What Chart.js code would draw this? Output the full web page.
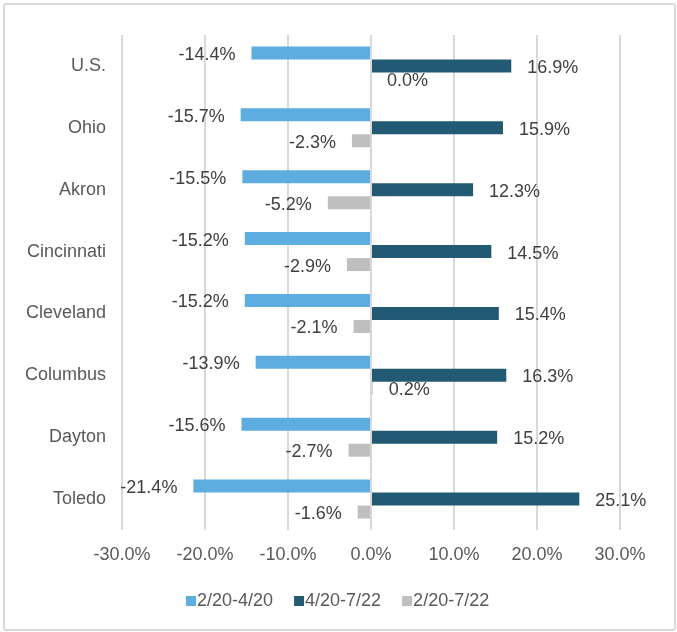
<!DOCTYPE html>
<html>
<head>
<meta charset="utf-8">
<script src="https://cdn.jsdelivr.net/npm/chart.js@4.4.0/dist/chart.umd.min.js"></script>
<style>
  body { margin: 0; background: #fff; }
  #wrap { position: relative; width: 677px; height: 632px; }
  #frame { position: absolute; left: 3px; top: 3px; width: 673px; height: 628px;
           box-sizing: border-box; border: 2px solid #d9d9d9; border-radius: 3px; }
  #myChart { position: absolute; left: 0; top: 0; }
</style>
</head>
<body>
<div id="wrap">
  <div id="frame"></div>
  <canvas id="myChart" width="677" height="632"></canvas>
</div>
<script>
// Categories and series (percent change)
const categories = ['U.S.', 'Ohio', 'Akron', 'Cincinnati', 'Cleveland', 'Columbus', 'Dayton', 'Toledo'];
const seriesNames = ['2/20-4/20', '4/20-7/22', '2/20-7/22'];
const feb_apr = [-14.4, -15.7, -15.5, -15.2, -15.2, -13.9, -15.6, -21.4];
const apr_jul = [16.9, 15.9, 12.3, 14.5, 15.4, 16.3, 15.2, 25.1];
const feb_jul = [0.0, -2.3, -5.2, -2.9, -2.1, 0.2, -2.7, -1.6];
const xTicks = [-30, -20, -10, 0, 10, 20, 30];

const colors = ['#5dade0', '#215a72', '#bfbfbf'];
const FONT = '"Liberation Sans", Arial, sans-serif';

// value labels at the end of each bar
const barLabels = {
    id: 'barLabels',
    afterDatasetsDraw(chart) {
        const ctx = chart.ctx;
        ctx.save();
        ctx.font = '18px ' + FONT;
        ctx.fillStyle = '#404040';
        ctx.textBaseline = 'middle';
        chart.data.datasets.forEach((ds, i) => {
            chart.getDatasetMeta(i).data.forEach((bar, j) => {
                const v = ds.data[j];
                const txt = v.toFixed(1) + '%';
                if (v < 0) {
                    ctx.textAlign = 'right';
                    ctx.fillText(txt, bar.x - 16, bar.y + 2);
                } else {
                    ctx.textAlign = 'left';
                    ctx.fillText(txt, bar.x + 16, bar.y + 2);
                }
            });
        });
        ctx.restore();
    }
};

// legend drawn under the axis
const bottomLegend = {
    id: 'bottomLegend',
    afterDraw(chart) {
        const ctx = chart.ctx;
        ctx.save();
        ctx.font = '18px ' + FONT;
        ctx.textBaseline = 'middle';
        ctx.textAlign = 'left';
        let x = 186;
        const y = 601;
        chart.data.datasets.forEach((ds) => {
            ctx.fillStyle = ds.backgroundColor;
            ctx.fillRect(x, y - 5, 10, 10);
            ctx.fillStyle = '#595959';
            ctx.fillText(ds.label, x + 11, y);
            x += 11 + ctx.measureText(ds.label).width + 21;
        });
        ctx.restore();
    }
};

const ctx = document.getElementById('myChart').getContext('2d');
const myChart = new Chart(ctx, {
    type: 'bar',
    data: {
        labels: categories,
        datasets: [
            { label: seriesNames[0], data: feb_apr, backgroundColor: colors[0] },
            { label: seriesNames[1], data: apr_jul, backgroundColor: colors[1] },
            { label: seriesNames[2], data: feb_jul, backgroundColor: colors[2] }
        ]
    },
    options: {
        indexAxis: 'y',
        responsive: false,
        animation: false,
        categoryPercentage: 0.63,
        barPercentage: 1.0,
        layout: { padding: { left: 0, right: 57, top: 35, bottom: 62 } },
        plugins: {
            legend: { display: false },
            tooltip: { enabled: false }
        },
        scales: {
            x: {
                min: -30,
                max: 30,
                afterBuildTicks(axis) { axis.ticks = xTicks.map(v => ({ value: v })); },
                afterFit(axis) { axis.height = 40; },
                grid: { color: '#d9d9d9', lineWidth: 2, drawTicks: false },
                border: { display: false },
                ticks: {
                    padding: 14,
                    color: '#595959',
                    font: { family: FONT, size: 18 },
                    callback: v => v.toFixed(1) + '%'
                }
            },
            y: {
                afterFit(axis) { axis.width = 122; },
                grid: { display: false, drawTicks: false },
                border: { display: false },
                ticks: {
                    padding: 16,
                    color: '#595959',
                    font: { family: FONT, size: 18 }
                }
            }
        }
    },
    plugins: [barLabels, bottomLegend]
});
</script>
</body>
</html>
